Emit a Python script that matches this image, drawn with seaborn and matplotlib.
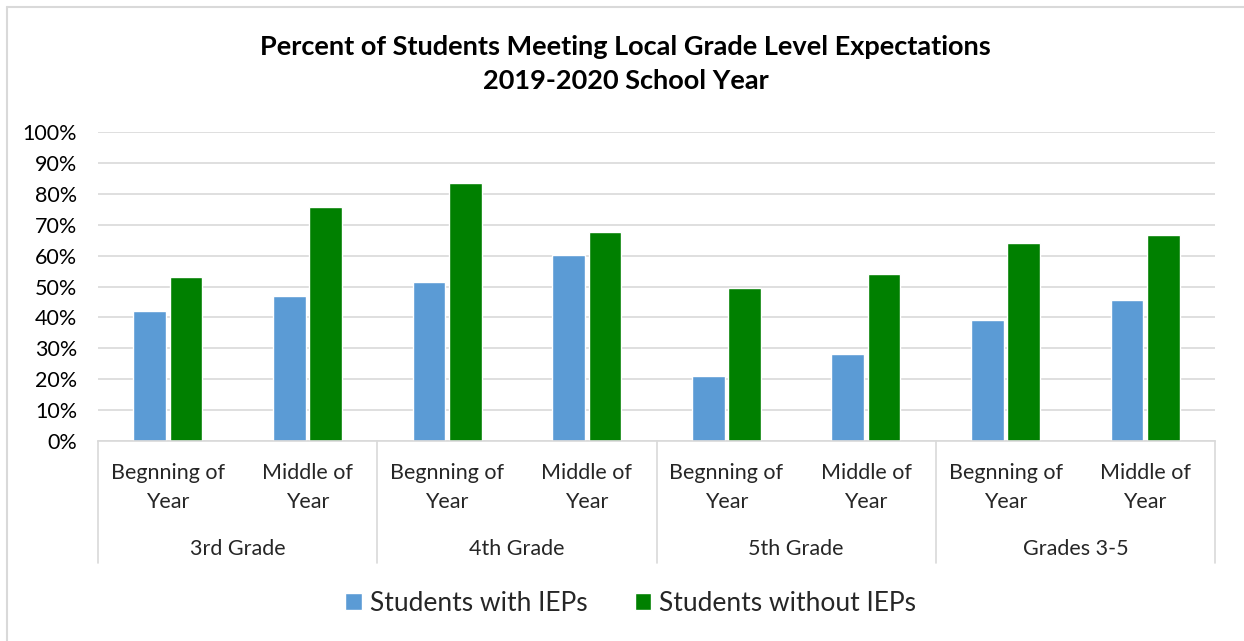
import pandas as pd
import seaborn as sns
import matplotlib.pyplot as plt
from matplotlib.lines import Line2D
from matplotlib.ticker import PercentFormatter

sns.set_style("white")
plt.rcParams['font.family'] = ['Lato', 'DejaVu Sans']

grades = ["3rd Grade", "4th Grade", "5th Grade", "Grades 3-5"]
periods = ["Begnning of\nYear", "Middle of\nYear"]
series = ["Students with IEPs", "Students without IEPs"]
with_ieps = [42.0, 47.0, 51.6, 60.2, 21.2, 28.3, 39.2, 45.5]
without_ieps = [53.2, 75.9, 83.5, 67.8, 49.5, 54.2, 64.2, 66.7]
colors = ["#5B9BD5", "#008000"]

rows = []
i = 0
for g in grades:
    for p in periods:
        rows.append({"cat": f"{g}|{p}", "grade": g, "period": p,
                     "series": series[0], "value": with_ieps[i]})
        rows.append({"cat": f"{g}|{p}", "grade": g, "period": p,
                     "series": series[1], "value": without_ieps[i]})
        i += 1
df = pd.DataFrame(rows)
cats = list(dict.fromkeys(df["cat"]))

fig = plt.figure(figsize=(12.44, 6.41), dpi=100)
ax = fig.add_axes([0.0788, 0.312, 0.8979, 0.482])

sns.barplot(data=df, x="cat", y="value", hue="series", order=cats,
            hue_order=series, palette=colors, width=0.52, gap=0.1,
            saturation=1, ax=ax, legend=True)

ax.set_ylim(0, 100)
ax.set_xlim(-0.5, len(cats) - 0.5)
ax.set_yticks(range(0, 101, 10))
ax.yaxis.set_major_formatter(PercentFormatter(decimals=0))
ax.grid(axis="y", color="#D9D9D9", linewidth=1.2)
ax.set_axisbelow(True)
for s in ["top", "right", "left"]:
    ax.spines[s].set_visible(False)
ax.spines["bottom"].set_color("#D9D9D9")
ax.spines["bottom"].set_linewidth(1.2)
ax.tick_params(axis="y", length=0, pad=15, labelsize=15.5, labelcolor="#000000")
ax.set_xticks(range(len(cats)))
ax.set_xticklabels([c.split("|")[1] for c in cats], fontsize=15.5,
                   linespacing=1.55)
ax.tick_params(axis="x", length=0, pad=16)
ax.set_xlabel("")
ax.set_ylabel("")

# group labels and separators
trans = ax.get_xaxis_transform()
for k, g in enumerate(grades):
    ax.text(2 * k + 0.5, -0.35, g, transform=trans, ha="center",
            va="center", fontsize=15.5)
for xb in [-0.5, 1.5, 3.5, 5.5, 7.5]:
    ax.add_line(Line2D([xb, xb], [0, -0.395], transform=trans,
                       color="#D9D9D9", linewidth=1.2, clip_on=False))

fig.text(0.503, 0.927, "Percent of Students Meeting Local Grade Level Expectations",
         ha="center", va="center", fontsize=19.5, fontweight="bold", color="black")
fig.text(0.503, 0.873, "2019-2020 School Year",
         ha="center", va="center", fontsize=19.5, fontweight="bold", color="black")

ax.legend(loc="center", bbox_to_anchor=(0.507, 0.059), bbox_transform=fig.transFigure,
          ncol=2, frameon=False, fontsize=19, handlelength=0.62, handleheight=0.62,
          handletextpad=0.3, columnspacing=1.8)

# outer chart border
fig.add_artist(Line2D([7 / 1244, 7 / 1244], [0, 1 - 7 / 641],
                      transform=fig.transFigure, color="#D9D9D9", linewidth=1.5))
fig.add_artist(Line2D([7 / 1244, 1], [1 - 7 / 641, 1 - 7 / 641],
                      transform=fig.transFigure, color="#D9D9D9", linewidth=1.5))

fig.savefig("out.png", dpi=100)
